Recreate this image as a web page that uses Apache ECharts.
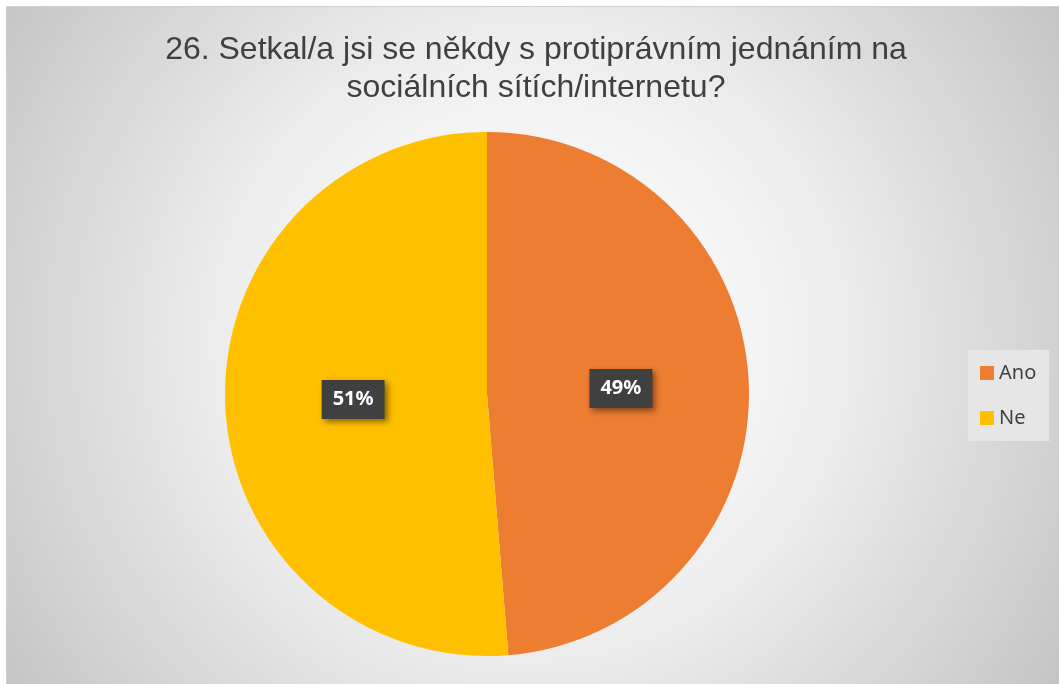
<!DOCTYPE html>
<html><head><meta charset="utf-8">
<script src="https://cdn.jsdelivr.net/npm/echarts@6/dist/echarts.min.js"></script>
<style>html,body{margin:0;padding:0;background:#fff}#c{width:1059px;height:684px}</style>
</head><body><div id="c"></div>
<script>
const titleText = '26. Setkal/a jsi se někdy s protiprávním jednáním na\nsociálních sítích/internetu?';
const categories = ['Ano', 'Ne'];
const values = [48.7, 51.3];
const colors = ['#ED7D31', '#FFC000'];

const chart = echarts.init(document.getElementById('c'));
chart.setOption({
  animation: false,
  backgroundColor: '#ffffff',
  graphic: [{
    type: 'rect', z: -10, silent: true,
    shape: {x: 6.5, y: 6.5, width: 1070, height: 690},
    style: {
      fill: {type: 'radial', x: 0.49, y: 0.485, r: 0.913,
        colorStops: [
          {offset: 0, color: '#ffffff'},
          {offset: 0.37, color: '#f3f3f3'},
          {offset: 0.5, color: '#ececec'},
          {offset: 0.7, color: '#dcdcdc'},
          {offset: 1, color: '#c4c4c4'}]},
      stroke: '#d0d0d0', lineWidth: 1
    }
  }],
  title: {
    text: titleText, left: 531, top: 26, textAlign: 'center',
    textStyle: {fontFamily: 'Liberation Sans', fontSize: 32, fontWeight: 'normal', color: '#404040', lineHeight: 38}
  },
  legend: {
    orient: 'vertical', left: 968, top: 350,
    padding: [13, 13, 13, 12],
    backgroundColor: '#e6e6e6',
    itemWidth: 14, itemHeight: 14, itemGap: 25, icon: 'rect',
    textStyle: {fontFamily: 'Noto Sans', fontSize: 20, color: '#404040', lineHeight: 20},
    data: categories
  },
  series: [{
    type: 'pie', center: [487, 394], radius: 262, startAngle: 90, clockwise: true,
    data: categories.map((n, i) => ({name: n, value: values[i], itemStyle: {color: colors[i]}})),
    label: {
      show: true, position: 'inside',
      formatter: p => Math.round(p.percent) + '%',
      fontFamily: 'Noto Sans', fontSize: 20, fontWeight: 'bold', color: '#ffffff',
      backgroundColor: '#404040', padding: [10, 11, 9, 11],
      shadowColor: 'rgba(0,0,0,0.45)', shadowBlur: 6, shadowOffsetX: 3, shadowOffsetY: 3
    },
    labelLine: {show: false},
    emphasis: {disabled: true}
  }]
});
</script></body></html>
